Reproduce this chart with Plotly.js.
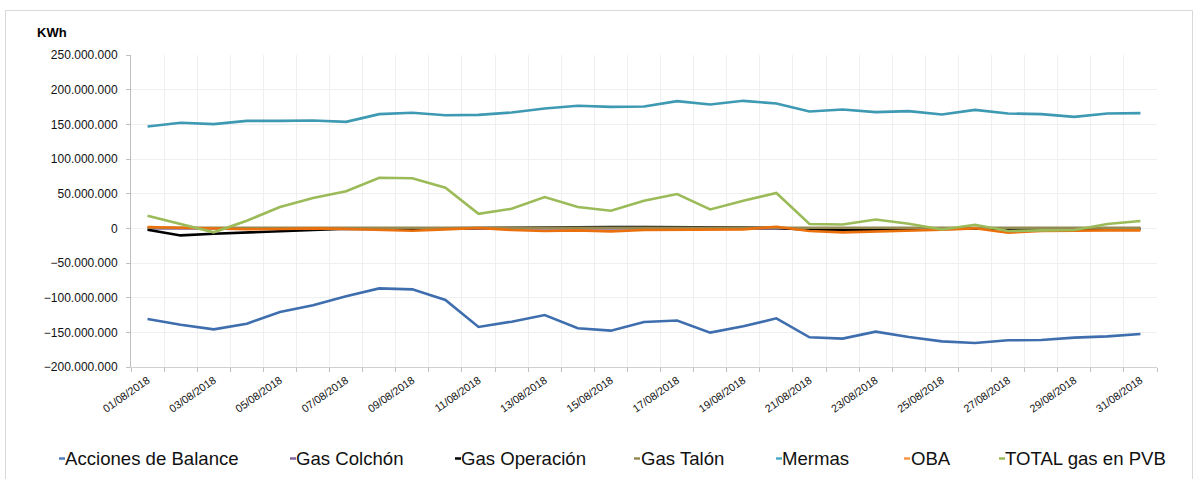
<!DOCTYPE html>
<html>
<head>
<meta charset="utf-8">
<script src="https://cdn.plot.ly/plotly-3.0.1.min.js"></script>
<style>
html,body{margin:0;padding:0;background:#fff;}
#chart{width:1199px;height:479px;}
</style>
</head>
<body>
<div id="chart"></div>
<script>
const dates = ['01/08/2018','02/08/2018','03/08/2018','04/08/2018','05/08/2018','06/08/2018','07/08/2018','08/08/2018','09/08/2018','10/08/2018',
  '11/08/2018','12/08/2018','13/08/2018','14/08/2018','15/08/2018','16/08/2018','17/08/2018','18/08/2018','19/08/2018','20/08/2018',
  '21/08/2018','22/08/2018','23/08/2018','24/08/2018','25/08/2018','26/08/2018','27/08/2018','28/08/2018','29/08/2018','30/08/2018','31/08/2018'];
const tickLabels = ['01/08/2018','03/08/2018','05/08/2018','07/08/2018','09/08/2018','11/08/2018','13/08/2018','15/08/2018',
  '17/08/2018','19/08/2018','21/08/2018','23/08/2018','25/08/2018','27/08/2018','29/08/2018','31/08/2018'];

const accionesBalance = [-130700000,-139000000,-145700000,-137500000,-120600000,-111000000,-98000000,-86600000,-88000000,-103400000,
  -142300000,-134600000,-125000000,-144200000,-147600000,-135000000,-133000000,-150400000,-141300000,-129800000,
  -157200000,-159000000,-149000000,-156700000,-163000000,-165300000,-161500000,-161000000,-157600000,-155800000,-152300000];
const gasColchon = [0,0,0,0,0,0,0,0,0,0,0,0,0,0,0,0,0,0,0,0,0,0,0,0,0,0,0,0,0,0,0];
const gasOperacion = [-2000000,-10200000,-7800000,-5900000,-3900000,-2000000,-500000,-1000000,-1500000,0,
  500000,1000000,2000000,2000000,2000000,2000000,2000000,1500000,1000000,500000,
  -2000000,-3000000,-2000000,-2000000,-1000000,0,-1000000,-3000000,-2000000,-1000000,-1000000];
const gasTalon = [800000,800000,800000,800000,800000,800000,800000,800000,800000,800000,
  800000,800000,800000,800000,800000,800000,800000,800000,800000,800000,
  800000,800000,800000,800000,800000,800000,800000,800000,800000,800000,800000];
const mermas = [146800000,152200000,150300000,155000000,155000000,155500000,153600000,164700000,166600000,163200000,
  163700000,167000000,172800000,176700000,175200000,175700000,183400000,178600000,183900000,180000000,
  168500000,171400000,167600000,169000000,164200000,170900000,165600000,164700000,160800000,165600000,166100000];
const oba = [1900000,1000000,0,-1300000,-1000000,0,-1000000,-2400000,-3400000,-1500000,
  500000,-2400000,-3800000,-3000000,-4400000,-2400000,-2000000,-1000000,-1500000,2300000,
  -3800000,-5800000,-4400000,-4000000,-2000000,0,-6300000,-3800000,-3000000,-3000000,-3000000];
const totalPVB = [18200000,6000000,-5800000,11000000,30700000,43600000,53500000,72900000,72200000,58500000,
  21000000,28200000,45100000,30700000,25400000,39800000,49400000,27200000,39800000,50900000,
  6200000,5600000,12800000,6600000,-1600000,5200000,-3900000,-3000000,-2500000,6200000,10500000];

const seriesNames = ['Acciones de Balance','Gas Colchón','Gas Operación','Gas Talón','Mermas','OBA','TOTAL gas en PVB'];
const seriesData = [accionesBalance, gasColchon, gasOperacion, gasTalon, mermas, oba, totalPVB];
const lineColors = ['#3F6EAE','#8064A2','#000000','#948A54','#3E99B3','#EA700D','#9BBB59'];
const legendColors = ['#4F81BD','#8064A2','#000000','#948A54','#4BACC6','#F79646','#9BBB59'];

const traces = seriesData.map((vals, i) => ({
  type: 'scatter', mode: 'lines', name: seriesNames[i],
  x: dates, y: vals, xaxis: 'x', yaxis: 'y',
  line: {color: lineColors[i], width: 2.6},
  showlegend: false
}));
traces.push({type:'scatter', mode:'lines', x:[], y:[], xaxis:'x2', yaxis:'y', showlegend:false, hoverinfo:'skip'});

const L = 131, R = 1157, T = 55, B = 367;
const px = x => (x - L) / (R - L);
const py = y => (B - y) / (B - T);

const legendTextX = [65, 296, 461, 641, 782, 911, 1005];
const legendDashX = [59, 290, 455, 634, 776, 904, 999];
const legendY = 458.5;

const shapes = [{
  type:'rect', xref:'paper', yref:'paper', x0:px(5.5), x1:px(1192.5), y0:py(490), y1:py(10.5),
  line:{color:'#d9d9d9', width:1}, fillcolor:'rgba(0,0,0,0)', layer:'below'
}];
const annotations = [{
  xref:'paper', yref:'paper', x:px(35), y:py(32), xanchor:'left', yanchor:'middle',
  text:'<b>KWh</b>', showarrow:false, font:{family:'Liberation Sans, Arial, sans-serif', size:13, color:'#000'}
}];
seriesNames.forEach((n, i) => {
  shapes.push({type:'line', xref:'paper', yref:'paper', x0:px(legendDashX[i]), x1:px(legendDashX[i]+6),
    y0:py(legendY), y1:py(legendY), line:{color:legendColors[i], width:2.5}});
  annotations.push({xref:'paper', yref:'paper', x:px(legendTextX[i]-2), y:py(legendY), xanchor:'left', yanchor:'middle',
    text:n, showarrow:false, font:{family:'Liberation Sans, Arial, sans-serif', size:18.6, color:'#111'}});
});

const layout = {
  width:1199, height:479,
  margin:{l:L, r:1199-R, t:T, b:479-B, pad:0},
  paper_bgcolor:'#ffffff', plot_bgcolor:'#ffffff',
  separators:',.',
  font:{family:'Liberation Sans, Arial, sans-serif', color:'#222'},
  showlegend:false,
  xaxis:{
    type:'category', range:[-0.5, 30.5], tickmode:'array', tickvals:tickLabels, ticktext:tickLabels,
    tickangle:-35, tickfont:{size:10.8, color:'#111'}, showgrid:false, zeroline:false,
    ticks:'', showline:true, linecolor:'#d0d0d0', linewidth:1, ticklabelstandoff:2
  },
  xaxis2:{
    overlaying:'x', anchor:'y', side:'bottom', type:'linear', range:[-0.5,30.5], tickmode:'linear', tick0:-0.5, dtick:1,
    showticklabels:false, ticks:'outside', ticklen:4, tickcolor:'#bfbfbf', showgrid:true, gridcolor:'#efefef', gridwidth:1,
    zeroline:false, showline:false
  },
  yaxis:{
    range:[-200000000, 250000000], tickmode:'linear', tick0:0, dtick:50000000, tickformat:',d',
    tickfont:{size:12, color:'#111'}, showgrid:true, gridcolor:'#efefef', gridwidth:1, zeroline:false,
    showline:true, linecolor:'#bfbfbf', linewidth:1, ticks:'outside', ticklen:4, tickcolor:'#bfbfbf',
    ticklabelstandoff:6
  },
  shapes:shapes, annotations:annotations
};

Plotly.newPlot('chart', traces, layout, {displayModeBar:false, staticPlot:true});
</script>
</body>
</html>
